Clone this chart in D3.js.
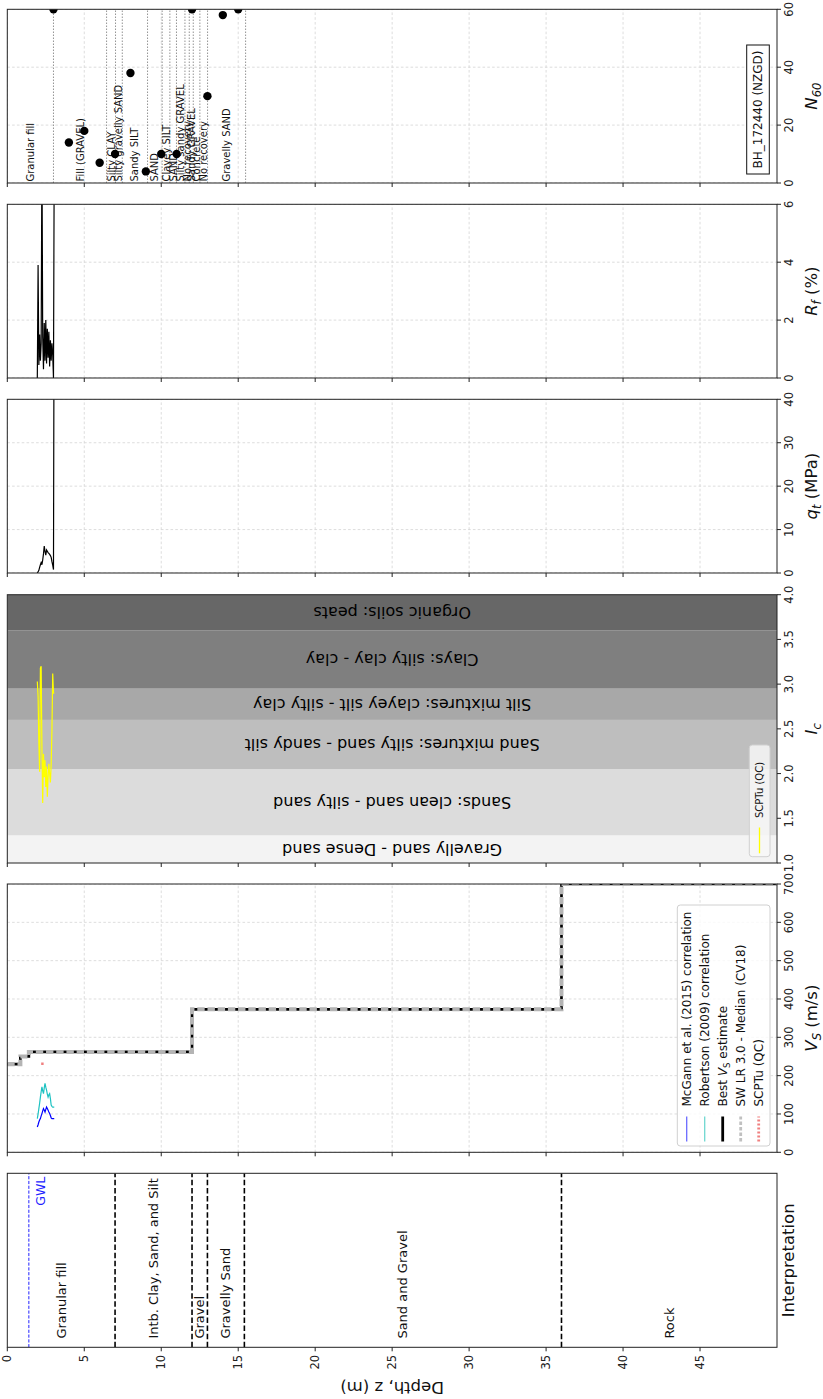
<!DOCTYPE html>
<html><head><meta charset="utf-8">
<script src="https://cdn.jsdelivr.net/npm/d3@7"></script>
<style>
body{margin:0;background:#fff}
svg{display:block;font-family:"DejaVu Sans",sans-serif}
</style>
</head><body>
<script>
// ---------- data ----------
const depthTicks = [0, 5, 10, 15, 20, 25, 30, 35, 40, 45];

// Interpretation layers
const interpNames = ["Granular fill", "Intb. Clay, Sand, and Silt", "Gravel", "Gravelly Sand", "Sand and Gravel", "Rock"];
const interpTops = [0, 7, 12, 13, 15.4, 36];
const interpBottoms = [7, 12, 13, 15.4, 36, 50];
const gwlDepth = 1.4;

// Vs step profiles
const swTop = [0, 0.85, 1.4, 12, 36];
const swBottom = [0.85, 1.4, 12, 36, 50];
const swVs = [230, 250, 262, 373, 700];
const bestTop = [0, 0.85, 1.4, 12, 36];
const bestBottom = [0.85, 1.4, 12, 36, 50];
const bestVs = [230, 250, 262, 373, 700];
const scptDepth = [2.2, 2.36];
const scptVs = [231, 231];

// CPT record
const cptDepth = [1.95, 2.0, 2.05, 2.1, 2.15, 2.2, 2.25, 2.3, 2.35, 2.4, 2.45, 2.5, 2.55, 2.6, 2.65, 2.7, 2.75, 2.8, 2.85, 2.9, 2.95, 3.0, 3.05];
const qt = [0.0, 0.3, 0.6, 1.3, 1.9, 2.4, 1.9, 3.0, 4.4, 6.2, 5.0, 4.1, 5.3, 5.0, 4.7, 4.5, 4.3, 4.0, 3.6, 2.6, 1.8, 0.8, 80];
const rf = [0.0, 3.9, 0.45, 1.5, 0.6, 1.2, 8.0, 1.4, 0.3, 1.9, 0.6, 2.0, 0.5, 1.7, 0.7, 1.6, 0.4, 1.3, 0.6, 1.2, 0.8, 0.0, 8.0];
const ic = [3.03, 2.86, 2.34, 2.02, 3.18, 3.20, 2.26, 1.67, 2.22, 1.96, 2.15, 1.85, 2.08, 1.74, 1.96, 2.11, 2.0, 1.9, 2.1, 2.49, 3.12, 2.9, 2.9];
const vsMcGann = [66, 72, 79, 84, 88, 95, 101, 108, 114, 110, 105, 112, 118, 114, 110, 105, 101, 96, 90, 88, 88, 88, 88];
const vsRobertson = [88, 100, 114, 128, 144, 158, 171, 160, 153, 168, 180, 170, 162, 152, 144, 150, 153, 140, 123, 120, 118, 118, 118];

// Ic soil behaviour zones
const icZoneLo = [1.0, 1.31, 2.05, 2.6, 2.95, 3.6];
const icZoneHi = [1.31, 2.05, 2.6, 2.95, 3.6, 4.0];
const icZoneNames = ["Gravelly sand - Dense sand", "Sands: clean sand - silty sand", "Sand mixtures: silty sand - sandy silt", "Silt mixtures: clayey silt - silty clay", "Clays: silty clay - clay", "Organic soils: peats"];
const icZoneColors = ["#f3f3f3", "#dcdcdc", "#bebebe", "#a8a8a8", "#7f7f7f", "#676767"];

// Borehole log and SPT
const logTops = [0, 3.0, 6.45, 7.03, 7.47, 9.11, 10.06, 10.56, 10.99, 11.54, 11.82, 12.08, 12.51, 13.01];
const logBottoms = [3.0, 6.45, 7.03, 7.47, 9.11, 10.06, 10.56, 10.99, 11.54, 11.82, 12.08, 12.51, 13.01, 15.48];
const logNames = ["Granular fill", "Fill (GRAVEL)", "Silty CLAY", "Silty gravelly SAND", "Sandy SILT", "SAND", "Clayey SILT", "SAND", "Silty sandy GRAVEL", "No recovery", "Sandy GRAVEL", "Concrete", "No recovery", "Gravelly SAND"];
const sptDepth = [3, 4, 5, 6, 7, 8, 9, 10, 11, 12, 13, 14, 15];
const sptN60 = [60, 14, 18, 7, 10, 38, 4, 10, 10, 60, 30, 58, 60];
const boreholeId = "BH_172440 (NZGD)";

const vsTicks = [0, 100, 200, 300, 400, 500, 600, 700];
const icTicks = [1.0, 1.5, 2.0, 2.5, 3.0, 3.5, 4.0];
const qtTicks = [0, 10, 20, 30, 40];
const rfTicks = [0, 2, 4, 6];
const nTicks = [0, 20, 40, 60];

// ---------- layout ----------
const W = 823, H = 1399;
const svg = d3.select("body").append("svg").attr("width", W).attr("height", H);
// profiles are laid out side by side, then the whole figure is turned a quarter turn
const fig = svg.append("g").attr("transform", `translate(0,${H}) rotate(-90)`);

const y = d3.scaleLinear().domain([0, 50]).range([7.3, 777]);
const yTop = y(0), yBot = y(50);
const TICK = 4, TFONT = 11.5, LFONT = 16.5;
const frameColor = "#222";

let clipId = 0;
function panel(x0, x1, domain, ticks, opts = {}) {
  const x = d3.scaleLinear().domain(domain).range([x0, x1]);
  const g = fig.append("g");
  const id = "clip" + (clipId++);
  g.append("clipPath").attr("id", id).append("rect")
    .attr("x", x0).attr("y", yTop).attr("width", x1 - x0).attr("height", yBot - yTop);
  const back = g.append("g").attr("clip-path", `url(#${id})`);
  if (opts.grid !== false) {
    const grid = back.append("g").attr("stroke", "#d4d4d4").attr("stroke-width", 0.8).attr("stroke-dasharray", "2.6,2.2");
    grid.selectAll(".gv").data(ticks).join("line")
      .attr("x1", d => x(d)).attr("x2", d => x(d)).attr("y1", yTop).attr("y2", yBot);
    grid.selectAll(".gh").data(depthTicks).join("line")
      .attr("x1", x0).attr("x2", x1).attr("y1", d => y(d)).attr("y2", d => y(d));
  }
  const plot = g.append("g").attr("clip-path", `url(#${id})`);
  const over = g.append("g");
  // frame
  over.append("rect").attr("x", x0).attr("y", yTop).attr("width", x1 - x0).attr("height", yBot - yTop)
    .attr("fill", "none").attr("stroke", frameColor).attr("stroke-width", 1);
  // depth ticks
  over.selectAll(".dt").data(depthTicks).join("line")
    .attr("x1", x0 - TICK).attr("x2", x0).attr("y1", d => y(d)).attr("y2", d => y(d))
    .attr("stroke", frameColor).attr("stroke-width", 1);
  // value ticks
  over.selectAll(".vt").data(ticks).join("line")
    .attr("x1", d => x(d)).attr("x2", d => x(d)).attr("y1", yBot).attr("y2", yBot + TICK)
    .attr("stroke", frameColor).attr("stroke-width", 1);
  const fmt = opts.format || (d => String(d));
  over.selectAll(".vl").data(ticks).join("text")
    .attr("x", d => x(d)).attr("y", yBot + TICK + 12.3)
    .attr("text-anchor", "middle").attr("font-size", TFONT).attr("fill", "#222")
    .text(fmt);
  return { x, back, plot, over, x0, x1 };
}

function axisLabel(p, parts, baseY) {
  const t = p.over.append("text").attr("x", (p.x0 + p.x1) / 2).attr("y", baseY)
    .attr("text-anchor", "middle").attr("font-size", LFONT).attr("fill", "#111");
  parts.forEach(([s, style]) => {
    const ts = t.append("tspan").text(s);
    if (style === "i") ts.attr("font-style", "italic");
    if (style === "sub") ts.attr("font-style", "italic").attr("font-size", LFONT * 0.7).attr("dy", 3.5);
    if (style === "back") ts.attr("dy", -3.5);
  });
}

// ---------- Interpretation ----------
const pI = panel(51.7, 225.7, [0, 1], [], { grid: false });
pI.over.selectAll(".dl").data(depthTicks).join("text")
  .attr("x", 51.7 - TICK - 3.5).attr("y", d => y(d)).attr("dy", "0.35em")
  .attr("text-anchor", "end").attr("font-size", TFONT).attr("fill", "#222").text(d => d);
pI.plot.selectAll(".ib").data(interpTops.slice(1)).join("line")
  .attr("x1", pI.x0).attr("x2", pI.x1).attr("y1", d => y(d)).attr("y2", d => y(d))
  .attr("stroke", "#000").attr("stroke-width", 1.6).attr("stroke-dasharray", "5.5,2.6");
pI.plot.append("line").attr("x1", pI.x0).attr("x2", pI.x1).attr("y1", y(gwlDepth)).attr("y2", y(gwlDepth))
  .attr("stroke", "#2222ff").attr("stroke-width", 1).attr("stroke-dasharray", "3.2,1.6");
pI.over.append("text").attr("x", pI.x(0.98)).attr("y", y(gwlDepth) + 16)
  .attr("text-anchor", "end").attr("font-size", 12.5).attr("fill", "#2222ff").text("GWL");
pI.over.selectAll(".il").data(interpNames).join("text")
  .attr("x", pI.x(0.05)).attr("y", (d, i) => y((interpTops[i] + interpBottoms[i]) / 2)).attr("dy", "0.35em")
  .attr("font-size", 13).attr("fill", "#111").text(d => d);
axisLabel(pI, [["Interpretation", ""]], 794);
fig.append("text").attr("transform", `translate(17,${(yTop + yBot) / 2}) rotate(-90)`)
  .attr("text-anchor", "middle").attr("font-size", LFONT).attr("fill", "#111").text("Depth, z (m)");

// ---------- Vs ----------
const pV = panel(246.7, 515, [0, 700], vsTicks);
function stepPath(x, tops, bots, vals) {
  const pts = [];
  vals.forEach((v, i) => { pts.push([x(v), y(tops[i])]); pts.push([x(v), y(bots[i])]); });
  return d3.line()(pts);
}
const lineDV = (x, ds, vs) => d3.line().x((d, i) => x(vs[i])).y(d => y(d))(ds);
pV.plot.append("path").attr("d", lineDV(pV.x, cptDepth, vsMcGann)).attr("fill", "none")
  .attr("stroke", "#0000ff").attr("stroke-width", 1.2);
pV.plot.append("path").attr("d", lineDV(pV.x, cptDepth, vsRobertson)).attr("fill", "none")
  .attr("stroke", "#1ec2c2").attr("stroke-width", 1.2);
pV.plot.append("path").attr("d", stepPath(pV.x, bestTop, bestBottom, bestVs)).attr("fill", "none")
  .attr("stroke", "#000").attr("stroke-width", 2.7);
pV.plot.append("path").attr("d", stepPath(pV.x, swTop, swBottom, swVs)).attr("fill", "none")
  .attr("stroke", "#b4b4b4").attr("stroke-width", 4).attr("stroke-dasharray", "7.4,2.8");
pV.plot.append("path").attr("d", lineDV(pV.x, scptDepth, scptVs)).attr("fill", "none")
  .attr("stroke", "#f08080").attr("stroke-width", 2.6);
axisLabel(pV, [["V", "i"], ["S", "sub"], [" (m/s)", "back"]], 817);

// Vs legend
(function () {
  const lg = pV.over.append("g");
  lg.append("rect").attr("x", 253).attr("y", 677.3).attr("width", 241).attr("height", 92.7).attr("rx", 3)
    .attr("fill", "#fff").attr("fill-opacity", 0.8).attr("stroke", "#d0d0d0");
  const rows = [
    { c: "#6b6bff", w: 1.3, dash: null, label: [["McGann et al. (2015) correlation", ""]] },
    { c: "#70d8d0", w: 1.3, dash: null, label: [["Robertson (2009) correlation", ""]] },
    { c: "#000", w: 2.8, dash: null, label: [["Best ", ""], ["V", "i"], ["S", "sub"], [" estimate", "back"]] },
    { c: "#c0c0c0", w: 2.8, dash: "3.5,2", label: [["SW LR 3.0 - Median (CV18)", ""]] },
    { c: "#f08080", w: 2.8, dash: "2,2", label: [["SCPTu (QC)", ""]] }
  ];
  rows.forEach((r, i) => {
    const yy = 686.7 + i * 18;
    lg.append("line").attr("x1", 257.5).attr("x2", 282.5).attr("y1", yy).attr("y2", yy)
      .attr("stroke", r.c).attr("stroke-width", r.w).attr("stroke-dasharray", r.dash);
    const t = lg.append("text").attr("x", 292.5).attr("y", yy).attr("dy", "0.35em")
      .attr("font-size", 12).attr("fill", "#111");
    r.label.forEach(([s, st]) => {
      const ts = t.append("tspan").text(s);
      if (st === "i") ts.attr("font-style", "italic");
      if (st === "sub") ts.attr("font-size", 8.5).attr("dy", 3);
      if (st === "back") ts.attr("dy", -3);
    });
  });
})();

// ---------- Ic ----------
const pC = panel(536, 804.3, [1, 4], icTicks, { grid: false, format: d3.format(".1f") });
pC.back.selectAll(".band").data(icZoneLo).join("rect")
  .attr("x", (d) => pC.x(d)).attr("width", (d, i) => pC.x(icZoneHi[i]) - pC.x(d))
  .attr("y", yTop).attr("height", yBot - yTop).attr("fill", (d, i) => icZoneColors[i]);
pC.back.selectAll(".bandl").data(icZoneNames).join("text")
  .attr("transform", (d, i) => `translate(${pC.x((icZoneLo[i] + icZoneHi[i]) / 2)},${y(25)}) rotate(-90)`)
  .attr("text-anchor", "middle").attr("dy", "0.35em").attr("font-size", 16).attr("fill", "#000").text(d => d);
pC.plot.append("path").attr("d", lineDV(pC.x, cptDepth, ic)).attr("fill", "none")
  .attr("stroke", "#ffff00").attr("stroke-width", 1.2);
axisLabel(pC, [["I", "i"], ["c", "sub"]], 817);
(function () {
  const lg = pC.over.append("g");
  lg.append("rect").attr("x", 542.3).attr("y", 749.3).attr("width", 111.7).attr("height", 20.7).attr("rx", 3)
    .attr("fill", "#f7f7f7").attr("fill-opacity", 0.85).attr("stroke", "#d0d0d0");
  lg.append("line").attr("x1", 545.7).attr("x2", 571.5).attr("y1", 759.5).attr("y2", 759.5)
    .attr("stroke", "#ffff00").attr("stroke-width", 1.3);
  lg.append("text").attr("x", 581).attr("y", 759.5).attr("dy", "0.35em").attr("font-size", 10).attr("fill", "#111").text("SCPTu (QC)");
})();

// ---------- qt ----------
const pQ = panel(826, 999.7, [0, 40], qtTicks);
pQ.plot.append("path").attr("d", lineDV(pQ.x, cptDepth, qt)).attr("fill", "none")
  .attr("stroke", "#000").attr("stroke-width", 1.2);
axisLabel(pQ, [["q", "i"], ["t", "sub"], [" (MPa)", "back"]], 817);

// ---------- Rf ----------
const pR = panel(1021, 1194.7, [0, 6], rfTicks);
pR.plot.append("path").attr("d", lineDV(pR.x, cptDepth, rf)).attr("fill", "none")
  .attr("stroke", "#000").attr("stroke-width", 1.2);
axisLabel(pR, [["R", "i"], ["f", "sub"], [" (%)", "back"]], 817);

// ---------- N60 ----------
const pN = panel(1216, 1389.7, [0, 60], nTicks);
pN.plot.selectAll(".lb").data(logBottoms).join("line")
  .attr("x1", pN.x0).attr("x2", pN.x1).attr("y1", d => y(d)).attr("y2", d => y(d))
  .attr("stroke", "#888").attr("stroke-width", 0.9).attr("stroke-dasharray", "1.5,1.5");
pN.plot.selectAll(".ln").data(logNames).join("text")
  .attr("x", pN.x(0.5)).attr("y", (d, i) => y((logTops[i] + logBottoms[i]) / 2)).attr("dy", "0.35em")
  .attr("font-size", 10).attr("fill", "#111").text(d => d);
pN.plot.selectAll(".spt").data(sptDepth).join("circle")
  .attr("cx", (d, i) => pN.x(sptN60[i])).attr("cy", d => y(d)).attr("r", 4.2).attr("fill", "#000");
pN.over.append("rect").attr("x", 1225).attr("y", 746.7).attr("width", 129).attr("height", 22.6)
  .attr("fill", "#fff").attr("stroke", "#111").attr("stroke-width", 1);
pN.over.append("text").attr("x", 1289.5).attr("y", 758).attr("dy", "0.35em").attr("text-anchor", "middle")
  .attr("font-size", 12).attr("fill", "#111").text(boreholeId);
axisLabel(pN, [["N", "i"], ["60", "sub"]], 817);
</script>
</body></html>
